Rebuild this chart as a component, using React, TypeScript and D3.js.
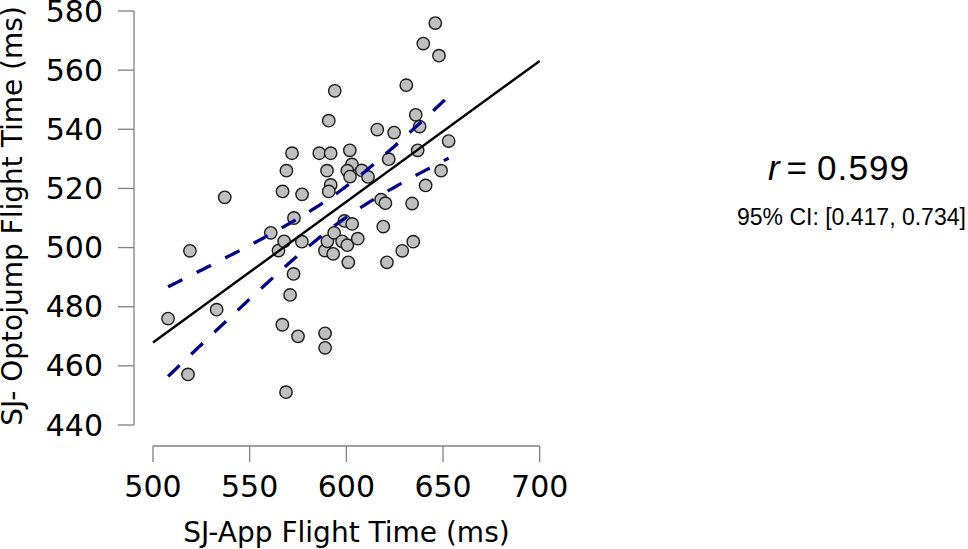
import React, { useMemo } from "react";
import * as d3 from "d3";

// SJ-App flight time (ms)
const appTimes = [
  507.8, 519.1, 532.9, 518.1, 537.1, 560.9, 564.9, 567.8, 567.0, 569.0,
  571.9, 572.9, 572.7, 570.9, 566.9, 575.0, 568.8, 577.1, 577.0, 586.0,
  591.9, 590.9, 594.0, 590.0, 591.9, 590.9, 589.0, 589.0, 588.9, 593.2,
  590.2, 593.7, 597.8, 600.5, 601.0, 599.0, 603.0, 605.9, 601.8, 602.9,
  600.5, 601.9, 608.0, 611.2, 616.0, 624.7, 621.9, 618.0, 620.2, 619.1,
  621.0, 628.9, 634.6, 634.0, 641.0, 649.0, 636.9, 652.9, 637.9, 635.9,
  631.0, 646.0, 639.8, 647.9,
];
// SJ-Optojump flight time (ms)
const optoTimes = [
  476.0, 498.9, 479.0, 457.1, 517.0, 505.0, 499.0, 502.1, 519.0, 526.0,
  531.9, 510.0, 491.1, 484.0, 473.9, 470.0, 451.1, 518.0, 502.0, 531.9,
  531.9, 542.9, 553.0, 526.0, 521.2, 519.0, 471.0, 466.1, 499.0, 497.9,
  502.1, 505.0, 502.1, 500.8, 495.0, 509.0, 508.0, 503.0, 532.9, 528.1,
  526.0, 524.0, 526.1, 523.9, 539.9, 538.9, 529.9, 516.2, 515.0, 507.1,
  495.0, 498.9, 502.0, 514.9, 521.0, 526.0, 532.9, 536.0, 540.9, 544.9,
  554.9, 575.9, 569.0, 564.9,
];

const xTicks = [500, 550, 600, 650, 700];
const yTicks = [440, 460, 480, 500, 520, 540, 560, 580];
const xDomain = [500, 700];
const yDomain = [440, 580];
const rText = "0.599";
const ciText = "95% CI: [0.417, 0.734]";
const tCrit = 1.999; // t(0.975, df = n - 2)

const AXIS_FONT = "'DejaVu Sans', Verdana, sans-serif";
const STAT_FONT = "'Liberation Sans', Arial, Helvetica, sans-serif";

export default function App() {
  const W = 968;
  const H = 549;
  const x = d3.scaleLinear().domain(xDomain).range([153, 539.7]);
  const y = d3.scaleLinear().domain(yDomain).range([425, 11]);

  const fit = useMemo(() => {
    const n = appTimes.length;
    const mx = d3.mean(appTimes) as number;
    const my = d3.mean(optoTimes) as number;
    let sxx = 0,
      sxy = 0;
    for (let i = 0; i < n; i++) {
      sxx += (appTimes[i] - mx) ** 2;
      sxy += (appTimes[i] - mx) * (optoTimes[i] - my);
    }
    const b = sxy / sxx;
    const a = my - b * mx;
    let sse = 0;
    for (let i = 0; i < n; i++) sse += (optoTimes[i] - (a + b * appTimes[i])) ** 2;
    const s = Math.sqrt(sse / (n - 2));
    const [xmin, xmax] = d3.extent(appTimes) as [number, number];
    const grid = d3.range(0, 101).map((k) => xmin + ((xmax - xmin) * k) / 100);
    const band = grid.map((gx) => {
      const yhat = a + b * gx;
      const h = tCrit * s * Math.sqrt(1 / n + (gx - mx) ** 2 / sxx);
      return { gx, lo: yhat - h, hi: yhat + h };
    });
    return { a, b, band };
  }, []);

  const lineGen = d3
    .line<[number, number]>()
    .x((d) => x(d[0]))
    .y((d) => y(d[1]));

  const fitPath = lineGen(xDomain.map((v) => [v, fit.a + fit.b * v] as [number, number]));
  const hiPath = lineGen(fit.band.map((d) => [d.gx, d.hi] as [number, number]));
  const loPath = lineGen(fit.band.map((d) => [d.gx, d.lo] as [number, number]));

  const axisColor = "#808080";
  const x0 = 134; // y-axis position
  const yAxisY = 446; // x-axis position

  return (
    <svg
      width={W}
      height={H}
      style={{ position: "absolute", left: 0, top: 0, background: "#fff" }}
    >
      {/* Y axis */}
      <line x1={x0} x2={x0} y1={y(580)} y2={y(440)} stroke={axisColor} strokeWidth={1.3} />
      {yTicks.map((t) => (
        <g key={"y" + t}>
          <line x1={x0 - 16} x2={x0} y1={y(t)} y2={y(t)} stroke={axisColor} strokeWidth={1.3} />
          <text
            x={103}
            y={y(t)}
            textAnchor="end"
            dominantBaseline="central"
            fontFamily={AXIS_FONT}
            fontSize={30}
            fill="#000"
          >
            {t}
          </text>
        </g>
      ))}
      {/* X axis */}
      <line x1={x(500)} x2={x(700)} y1={yAxisY} y2={yAxisY} stroke={axisColor} strokeWidth={1.3} />
      {xTicks.map((t) => (
        <g key={"x" + t}>
          <line x1={x(t)} x2={x(t)} y1={yAxisY} y2={yAxisY + 16} stroke={axisColor} strokeWidth={1.3} />
          <text
            x={x(t)}
            y={497}
            textAnchor="middle"
            fontFamily={AXIS_FONT}
            fontSize={30}
            fill="#000"
          >
            {t}
          </text>
        </g>
      ))}
      {/* Axis titles */}
      <text
        x={346.5}
        y={541.5}
        textAnchor="middle"
        fontFamily={AXIS_FONT}
        fontSize={28}
        fill="#000"
      >
        SJ-App Flight Time (ms)
      </text>
      <text
        transform={`translate(22, 216) rotate(-90)`}
        textAnchor="middle"
        fontFamily={AXIS_FONT}
        fontSize={28}
        fill="#000"
      >
        SJ- Optojump Flight Time (ms)
      </text>

      {/* Points */}
      {appTimes.map((v, i) => (
        <circle
          key={"p" + i}
          cx={x(v)}
          cy={y(optoTimes[i])}
          r={6.2}
          fill="#bfbfbf"
          stroke="#1a1a1a"
          strokeWidth={1.4}
        />
      ))}

      {/* Fit & CI */}
      <path d={fitPath || ""} fill="none" stroke="#000" strokeWidth={2.4} />
      <path d={hiPath || ""} fill="none" stroke="#00008b" strokeWidth={3.3} strokeDasharray="16 16" />
      <path d={loPath || ""} fill="none" stroke="#00008b" strokeWidth={3.3} strokeDasharray="16 16" />

      {/* Stats text */}
      <text x={768} y={180} fontFamily={STAT_FONT} fontSize={35} fontStyle="italic" fill="#000">
        r
      </text>
      <text x={786.5} y={180} fontFamily={STAT_FONT} fontSize={35} fill="#000">
        =
      </text>
      <text
        x={817}
        y={180}
        fontFamily={STAT_FONT}
        fontSize={35}
        fill="#000"
        textLength={92}
        lengthAdjust="spacing"
      >
        {rText}
      </text>
      <text x={737} y={225} fontFamily={STAT_FONT} fontSize={23} fill="#000">
        {ciText}
      </text>
    </svg>
  );
}
